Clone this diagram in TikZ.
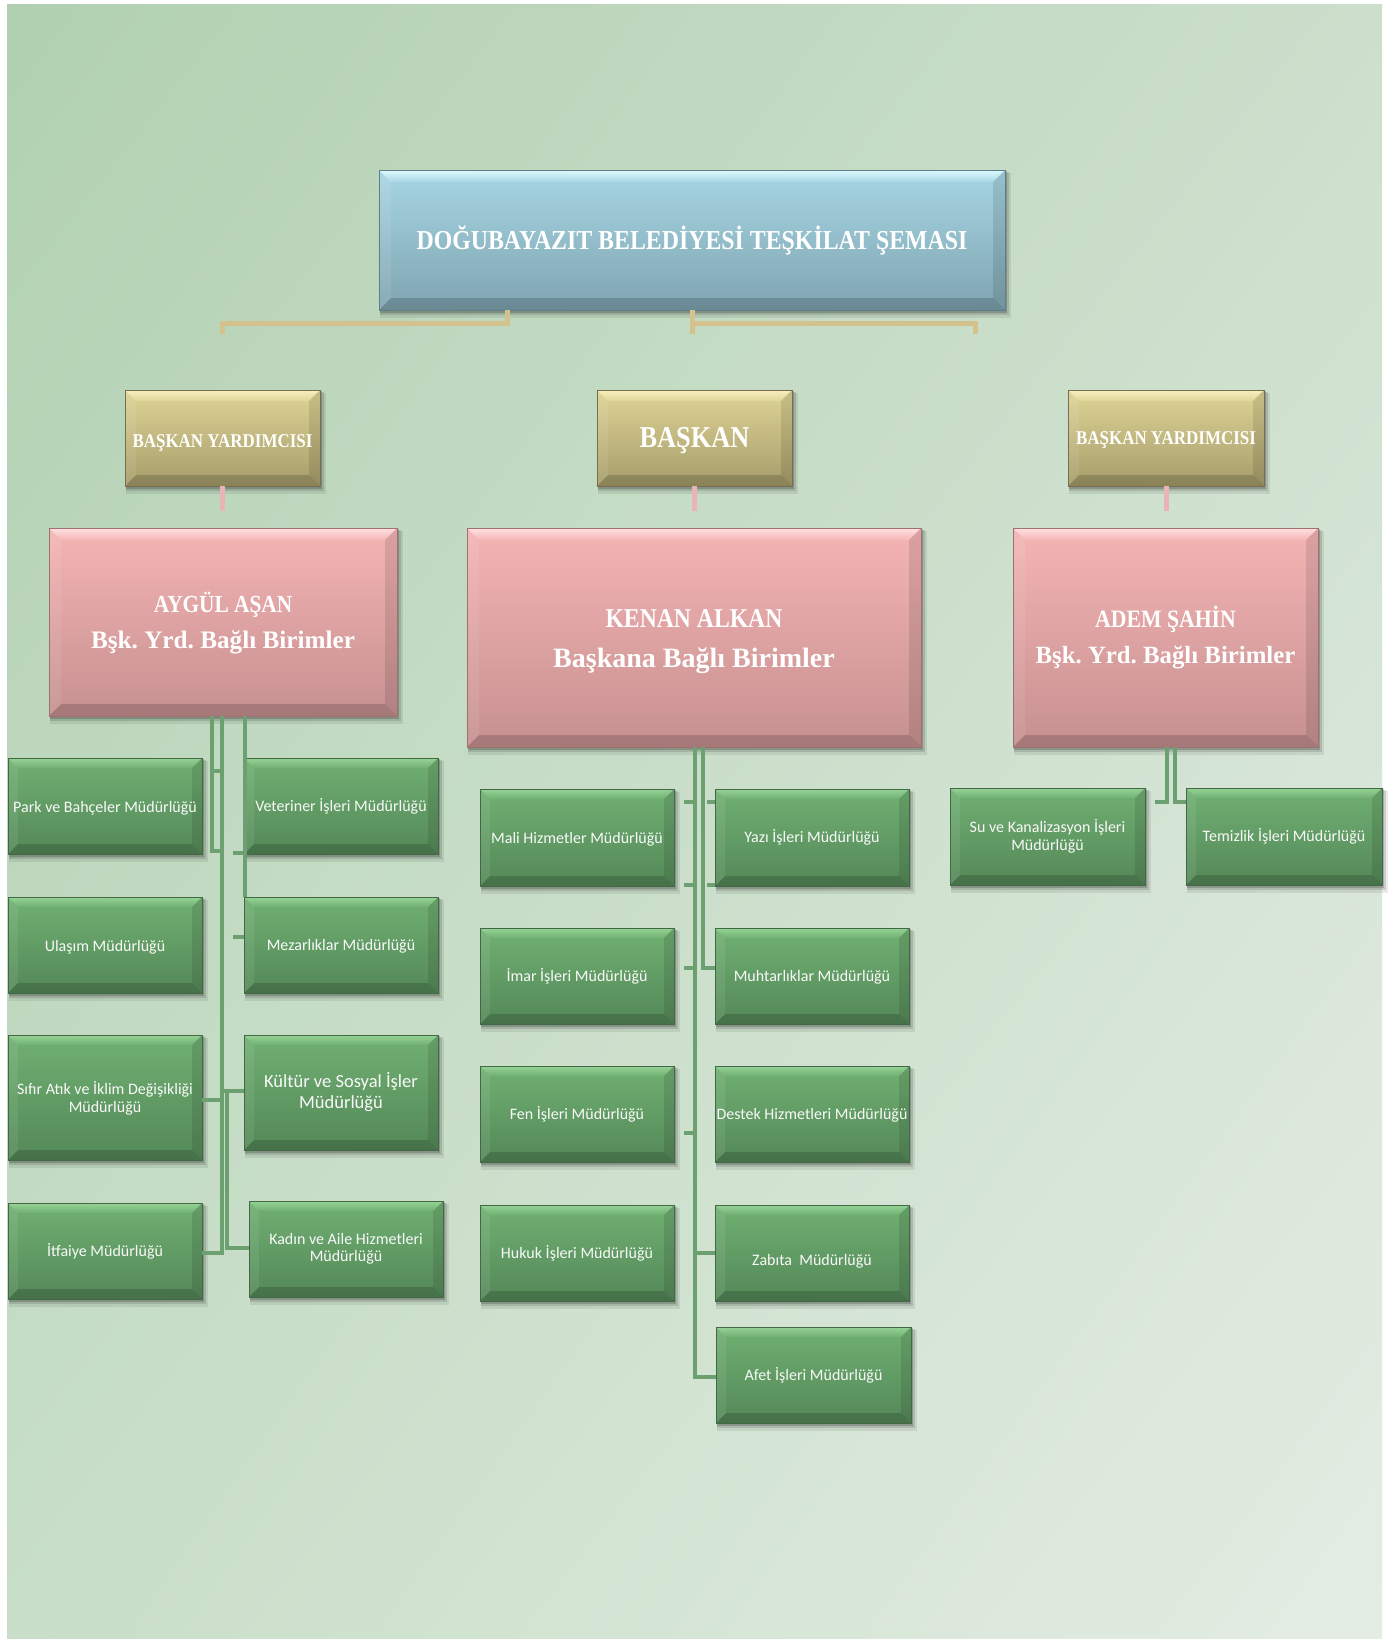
\documentclass[tikz,border=0pt]{standalone}
\usepackage{fontspec}
\setmainfont{Carlito}
\newfontfamily\capsfont[FakeStretch=0.87]{Liberation Serif}
\newfontfamily\mixfont{Liberation Serif}
\usetikzlibrary{calc,shadings}
\frenchspacing
\definecolor{bgTL}{RGB}{177,208,177}
\definecolor{bgTR}{RGB}{204,223,204}
\definecolor{bgBL}{RGB}{200,222,200}
\definecolor{bgBR}{RGB}{228,237,228}
\definecolor{grt}{RGB}{112,176,114}
\definecolor{grb}{RGB}{84,136,88}
\definecolor{grh}{RGB}{150,212,150}
\definecolor{gre}{RGB}{66,104,70}
\definecolor{pkt}{RGB}{245,180,180}
\definecolor{pkb}{RGB}{198,144,144}
\definecolor{pkh}{RGB}{255,226,226}
\definecolor{pke}{RGB}{160,112,112}
\definecolor{tnt}{RGB}{222,212,150}
\definecolor{tnb}{RGB}{166,156,106}
\definecolor{tnh}{RGB}{248,240,192}
\definecolor{tne}{RGB}{118,110,76}
\definecolor{blt}{RGB}{168,214,228}
\definecolor{blb}{RGB}{126,164,176}
\definecolor{blh}{RGB}{222,250,255}
\definecolor{ble}{RGB}{94,126,138}
\definecolor{lineg}{RGB}{108,160,112}
\definecolor{linet}{RGB}{212,194,142}
\definecolor{linep}{RGB}{234,180,182}
\tikzset{
  boxtext/.style={text=white,align=center,inner sep=0pt,outer sep=0pt},
  gline/.style={draw=lineg,line width=4.5pt},
  tline/.style={draw=linet,line width=5pt},
  pline/.style={draw=linep,line width=5pt},
  gfont/.style={font=\fontsize{16}{17.5}\selectfont,text=white!95!gray},
  tanfont/.style={font=\capsfont\bfseries\fontsize{19.5}{22}\selectfont},
}
% #1 name, #2 x1, #3 y1, #4 x2, #5 y2, #6 palette, #7 bevel, #8 node options, #9 text
\newcommand\bvbox[9]{%
  \fill[black,opacity=0.08] (#2+1,#3+3) rectangle (#4+6,#5+8);
  \fill[black,opacity=0.12] (#2+1,#3+2) rectangle (#4+4,#5+5);
  \fill[black,opacity=0.18] (#2+1,#3+1) rectangle (#4+2,#5+3);
  \shade[top color=#6t,bottom color=#6b] (#2,#3) rectangle (#4,#5);
  \shade[top color=#6h,bottom color=#6t] (#2,#3) -- (#4,#3) -- (#4-#7,#3+#7) -- (#2+#7,#3+#7) -- cycle;
  \fill[white,opacity=0.08] (#2,#3) -- (#2+#7,#3+#7) -- (#2+#7,#5-#7) -- (#2,#5) -- cycle;
  \fill[black,opacity=0.10] (#4,#3) -- (#4-#7,#3+#7) -- (#4-#7,#5-#7) -- (#4,#5) -- cycle;
  \fill[black,opacity=0.16] (#2,#5) -- (#2+#7,#5-#7) -- (#4-#7,#5-#7) -- (#4,#5) -- cycle;
  \draw[#6e,line width=1pt] (#2,#3) rectangle (#4,#5);
  \node[boxtext,minimum width={(#4-#2)*1pt},minimum height={(#5-#3)*1pt},#8] (#1) at ({(#2+#4)/2},{(#3+#5)/2}) {#9};
}
\begin{document}
\begin{tikzpicture}[x=1pt,y=-1pt]
\useasboundingbox (0,0) rectangle (1389,1639);
\fill[white] (0,0) rectangle (1389,1639);
\shade[upper left=bgTL,upper right=bgTR,lower left=bgBL,lower right=bgBR] (7,4) rectangle (1382,1639);

% ---- boxes ----
\bvbox{title}{379}{170}{1005}{310}{bl}{12}{font=\capsfont\bfseries\fontsize{27.4}{30}\selectfont}{DOĞUBAYAZIT BELEDİYESİ TEŞKİLAT ŞEMASI}

\bvbox{tanL}{125}{390}{320}{486}{tn}{11}{tanfont}{\rule{0pt}{23.5pt}BAŞKAN YARDIMCISI}
\bvbox{tanM}{597}{390}{792}{486}{tn}{11}{font=\capsfont\bfseries\fontsize{30.3}{32}\selectfont}{\rule{0pt}{26pt}BAŞKAN}
\bvbox{tanR}{1068}{390}{1264}{486}{tn}{11}{tanfont}{\rule{0pt}{17pt}BAŞKAN YARDIMCISI}

\bvbox{pinkL}{49}{528}{397}{716}{pk}{12}{font=\bfseries\fontsize{25}{35.5}\selectfont}{{\capsfont\fontsize{24.5}{35.5}\selectfont\rule{0pt}{23pt}AYGÜL AŞAN}\\{\mixfont\fontsize{25.2}{35.5}\selectfont Bşk. Yrd. Bağlı Birimler}}
\bvbox{pinkM}{467}{528}{921}{747}{pk}{12}{font=\bfseries\fontsize{27}{39.7}\selectfont}{{\capsfont\fontsize{27.2}{39.7}\selectfont\rule{0pt}{26.4pt}KENAN ALKAN}\\{\mixfont\fontsize{28}{39.7}\selectfont Başkana Bağlı Birimler}}
\bvbox{pinkR}{1013}{528}{1318}{747}{pk}{12}{font=\bfseries\fontsize{25}{36.6}\selectfont}{{\capsfont\fontsize{25}{36.6}\selectfont ADEM ŞAHİN}\\{\mixfont\fontsize{24.8}{36.6}\selectfont Bşk. Yrd. Bağlı Birimler}}

\bvbox{park}{8}{758}{202}{854}{gr}{10}{gfont}{\rule{0pt}{15pt}Park ve Bahçeler Müdürlüğü}
\bvbox{vet}{244}{758}{438}{854}{gr}{10}{gfont}{Veteriner İşleri Müdürlüğü}
\bvbox{ulasim}{8}{897}{202}{993}{gr}{10}{gfont}{\rule{0pt}{15pt}Ulaşım Müdürlüğü}
\bvbox{mezar}{244}{897}{438}{993}{gr}{10}{gfont}{\rule{0pt}{13pt}Mezarlıklar Müdürlüğü}
\bvbox{sifir}{8}{1035}{202}{1160}{gr}{10}{gfont}{\rule{0pt}{15pt}Sıfır Atık ve İklim Değişikliği\\Müdürlüğü}
\bvbox{kultur}{244}{1035}{438}{1150}{gr}{10}{gfont,font=\fontsize{18.5}{21}\selectfont}{Kültür ve Sosyal İşler\\Müdürlüğü}
\bvbox{itfaiye}{8}{1203}{202}{1299}{gr}{10}{gfont}{\rule{0pt}{13pt}İtfaiye Müdürlüğü}
\bvbox{kadin}{249}{1201}{443}{1297}{gr}{10}{gfont}{Kadın ve Aile Hizmetleri\\Müdürlüğü}

\bvbox{mali}{480}{789}{674}{886}{gr}{10}{gfont}{\rule{0pt}{15pt}Mali Hizmetler Müdürlüğü}
\bvbox{yazi}{715}{789}{909}{886}{gr}{10}{gfont}{\rule{0pt}{13pt}Yazı İşleri Müdürlüğü}
\bvbox{imar}{480}{928}{674}{1024}{gr}{10}{gfont}{\rule{0pt}{13pt}İmar İşleri Müdürlüğü}
\bvbox{muhtar}{715}{928}{909}{1024}{gr}{10}{gfont}{\rule{0pt}{13pt}Muhtarlıklar Müdürlüğü}
\bvbox{fen}{480}{1066}{674}{1162}{gr}{10}{gfont}{\rule{0pt}{13pt}Fen İşleri Müdürlüğü}
\bvbox{destek}{715}{1066}{909}{1162}{gr}{10}{gfont}{\rule{0pt}{13pt}Destek Hizmetleri Müdürlüğü}
\bvbox{hukuk}{480}{1205}{674}{1301}{gr}{10}{gfont}{Hukuk İşleri Müdürlüğü}
\bvbox{zabita}{715}{1205}{909}{1301}{gr}{10}{gfont}{\rule{0pt}{28.5pt}Zabıta\ \ Müdürlüğü}
\bvbox{afet}{716}{1327}{911}{1423}{gr}{10}{gfont}{Afet İşleri Müdürlüğü}

\bvbox{su}{950}{788}{1145}{885}{gr}{10}{gfont}{\rule{0pt}{13pt}Su ve Kanalizasyon İşleri\\Müdürlüğü}
\bvbox{temiz}{1186}{788}{1382}{885}{gr}{10}{gfont}{\rule{0pt}{13pt}Temizlik İşleri Müdürlüğü}

% ---- tan connectors ----
\draw[tline] (title.south -| 507,0) |- (tanL.north |- 0,323) -- (tanL.north |- 0,334);
\draw[tline] (title.south) -- (692,334);
\draw[tline] (692,323) -| (975,334);

% ---- pink connectors ----
\draw[pline] (tanL.south) -- ++(0,25);
\draw[pline] (tanM.south) -- ++(0,25);
\draw[pline] (tanR.south) -- ++(0,25);

% ---- left group ----
\draw[gline] (pinkL.south -| 212,0) |- (222,851);
\draw[gline] (214,771) -- (220,771);
\draw[gline] (pinkL.south -| 222,0) |- (itfaiye.east |- 0,1253);
\draw[gline] (pinkL.south -| 245,0) -- (mezar.north -| 245,0);
\draw[gline] (233,853) -- (245,853);
\draw[gline] (233,937) -- (mezar.west |- 0,937);
\draw[gline] (sifir.east |- 0,1100) -- (222,1100);
\draw[gline] (222,1091) -- (kultur.west |- 0,1091);
\draw[gline] (227,1091) |- (kadin.west |- 0,1248);

% ---- middle group ----
\draw[gline] (pinkM.south -| 695,0) |- (afet.west |- 0,1377);
\draw[gline] (pinkM.south -| 703,0) |- (muhtar.west |- 0,968);
\draw[gline] (684,802) -- (693,802);
\draw[gline] (684,885) -- (693,885);
\draw[gline] (684,968) -- (693,968);
\draw[gline] (684,1133) -- (697,1133);
\draw[gline] (707,802) -- (yazi.west |- 0,802);
\draw[gline] (707,885) -- (yazi.west |- 0,885);
\draw[gline] (695,1253) -- (zabita.west |- 0,1253);

% ---- right group ----
\draw[gline] (pinkR.south -| 1167,0) |- (1155,802);
\draw[gline] (pinkR.south -| 1175,0) |- (temiz.west |- 0,802);
\end{tikzpicture}
\end{document}
